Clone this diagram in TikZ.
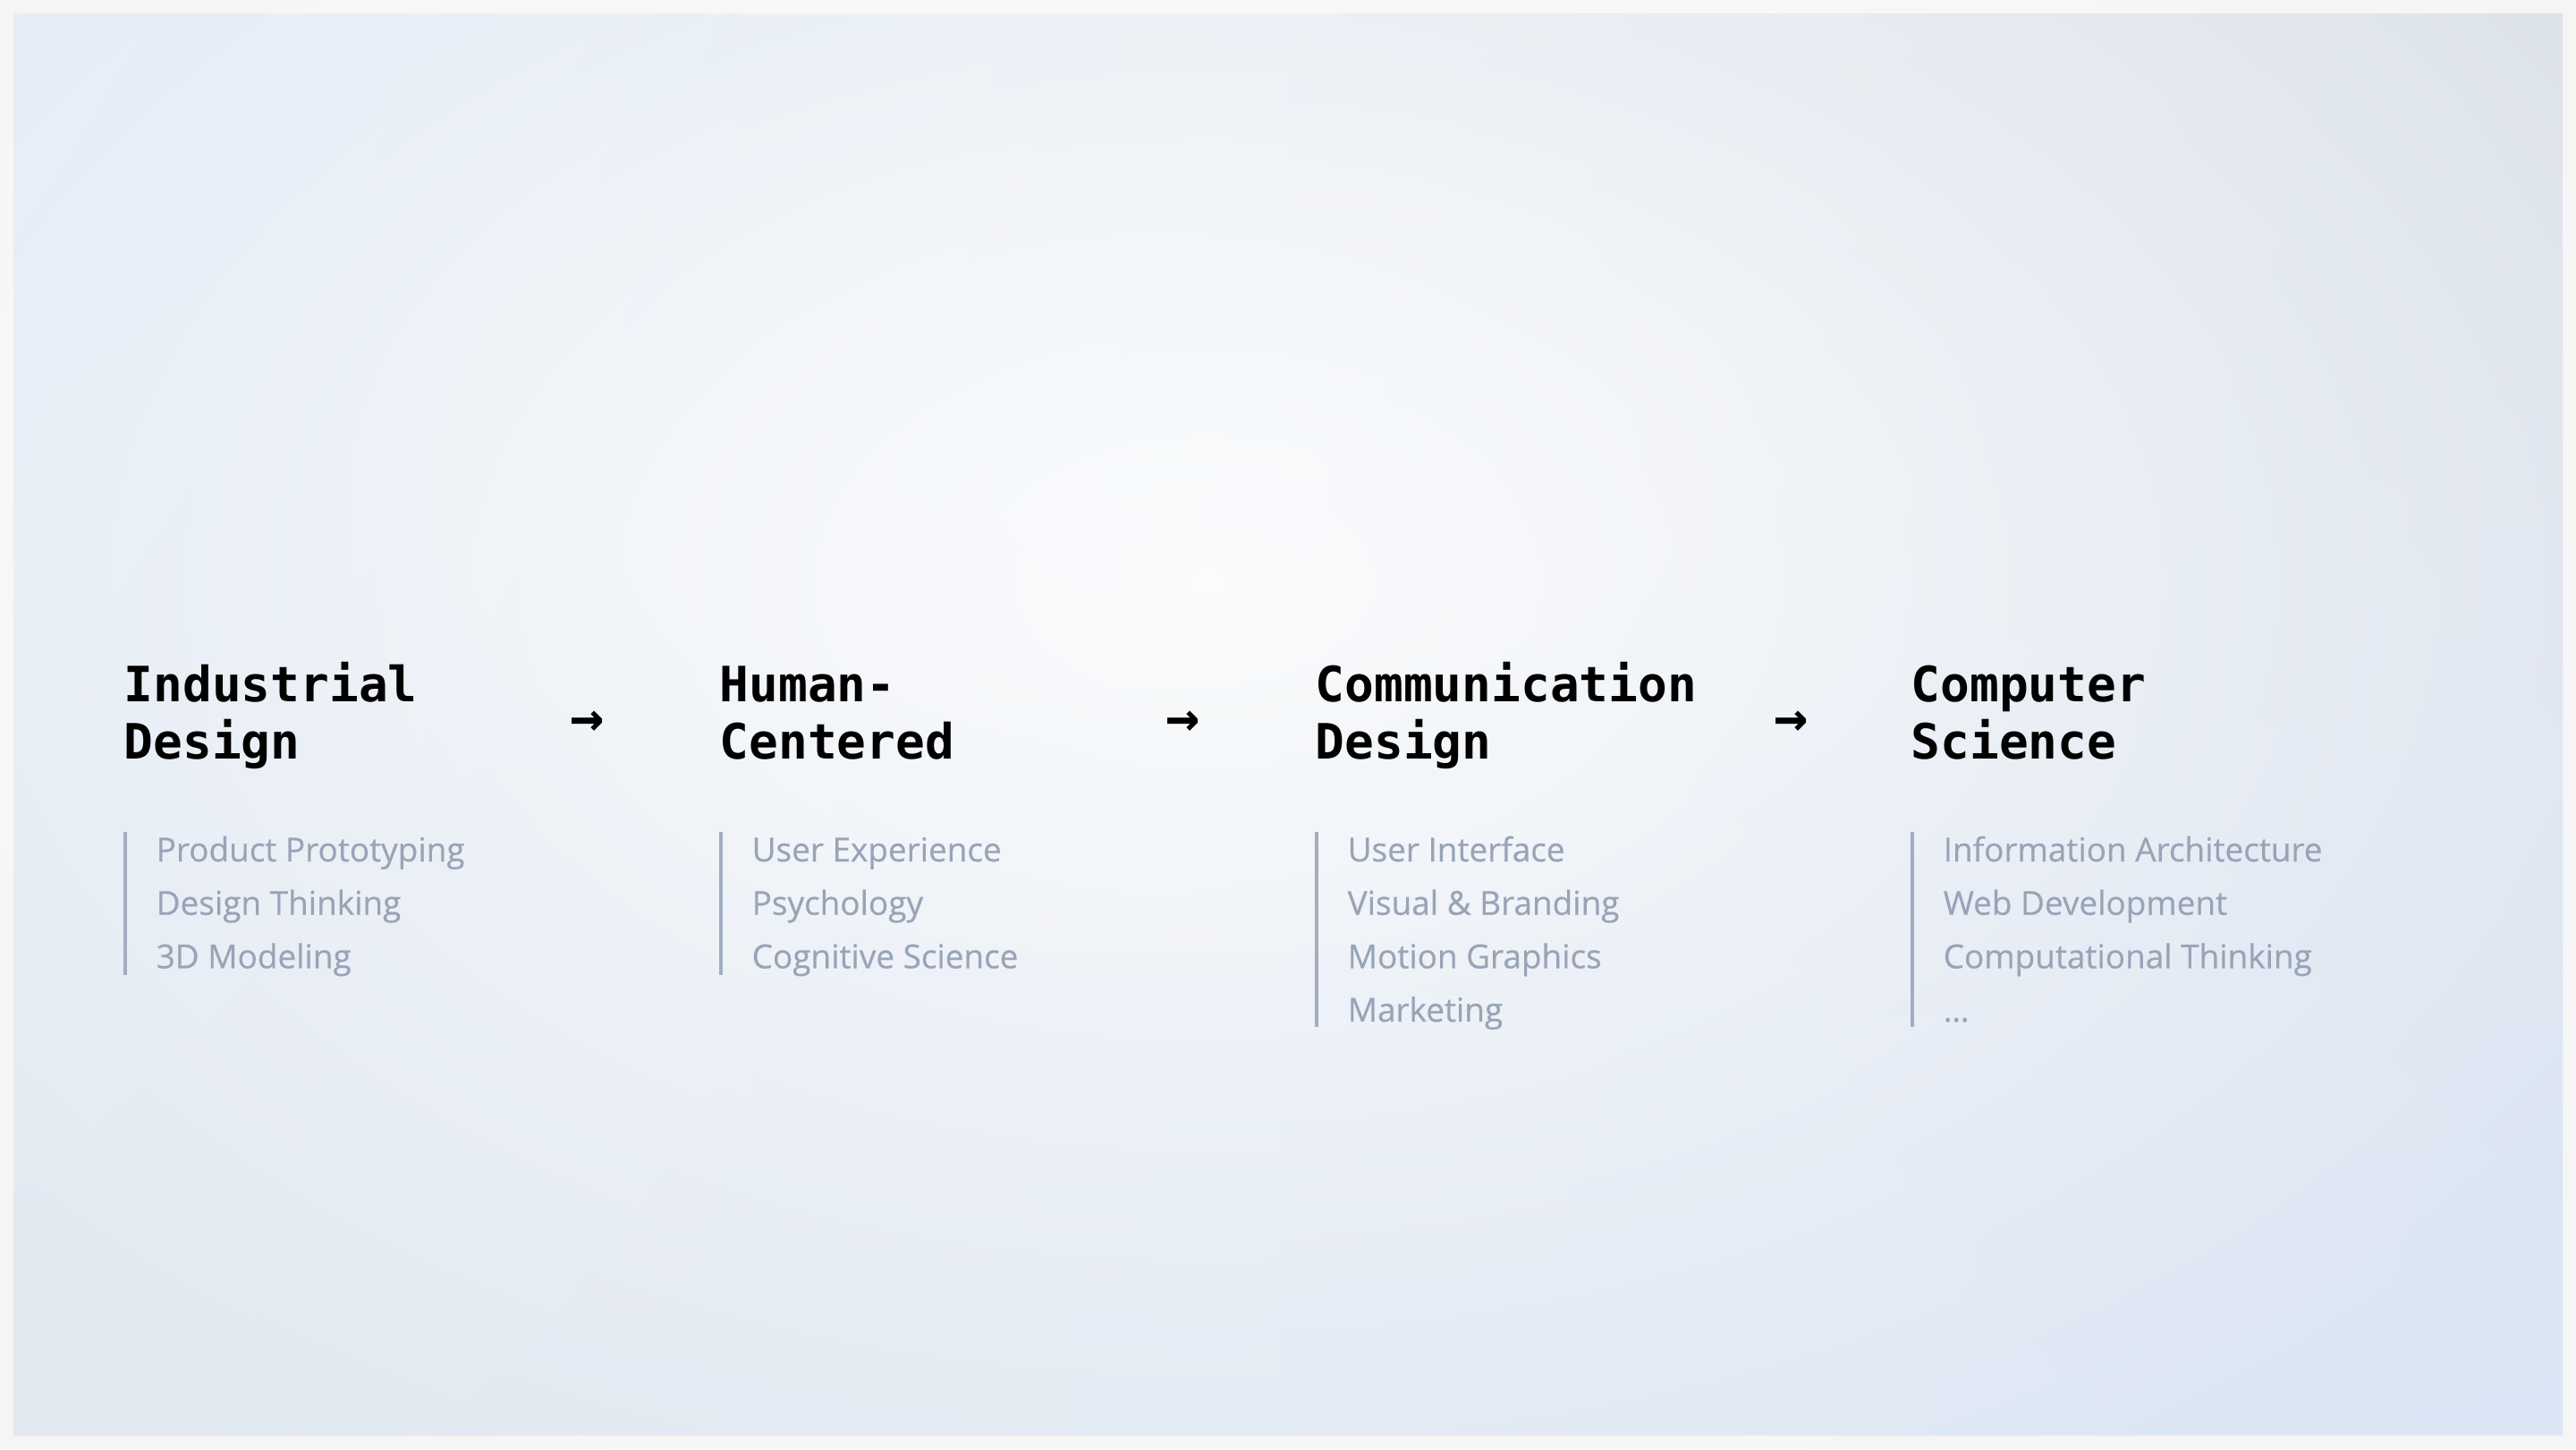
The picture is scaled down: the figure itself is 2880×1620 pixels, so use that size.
\documentclass[tikz,border=0pt]{standalone}
\usepackage{fontspec}
\usetikzlibrary{positioning,fadings,shadings}
\newfontfamily\headfont{DejaVu Sans Mono}
\newfontfamily\listfont{Open Sans}[FakeBold=0.4]
\definecolor{framegray}{HTML}{F5F5F5}
\definecolor{bgtl}{HTML}{E2EBF8}
\definecolor{bgtr}{HTML}{DCE2E9}
\definecolor{bgbl}{HTML}{E1E8EF}
\definecolor{bgbr}{HTML}{DBE5F5}
\definecolor{topicgray}{HTML}{98A4B7}
\definecolor{sidegray}{HTML}{A2AEC0}
\tikzfading[name=glow, inner color=transparent!0, outer color=transparent!100]
\tikzset{
  head/.style={anchor=base west, inner sep=0pt, align=left, font=\headfont\bfseries\fontsize{15.5pt}{18.2pt}\selectfont},
  topic/.style={anchor=base west, inner sep=0pt, text height=2.9mm, text depth=0.8mm, text=topicgray, font=\listfont\fontsize{10.5pt}{12pt}\selectfont},
  flow/.style={inner sep=0pt, font=\headfont\bfseries\fontsize{18pt}{18pt}\selectfont},
  sidebar/.style={draw=sidegray, line width=0.4mm},
}
\begin{document}
\begin{tikzpicture}[x=0.1mm, y=-0.1mm, node distance=2.13mm]
      \useasboundingbox (0,0) rectangle (2880,1620);
      \fill[framegray] (0,0) rectangle (2880,1620);
      \shade[upper left=bgtl, upper right=bgtr, lower left=bgbl, lower right=bgbr] (15,15) rectangle (2865,1604);
      \fill[white, opacity=0.8, path fading=glow] (1350,650) ellipse (1900 and 1200);
      \fill[white, opacity=0.3, path fading=glow] (1300,550) ellipse (1100 and 650);
      \node[head] (ID) at (138,848) {Industrial\\Design};
      \node[head] (HC) at (804,848) {Human-\\Centered};
      \node[head] (CD) at (1470,848) {Communication\\Design};
      \node[head] (CS) at (2136,848) {Computer\\Science};
      \node[flow] (A1) at (657,809) {→};
      \node[flow] (A2) at (1323,809) {→};
      \node[flow] (A3) at (2003,809) {→};
      \node[topic] (ID_1) at (174,963) {Product Prototyping};
      \node[topic, below=of ID_1.south west, anchor=north west] (ID_2) {Design Thinking};
      \node[topic, below=of ID_2.south west, anchor=north west] (ID_3) {3D Modeling};
      \draw[sidebar] (140,930) -- (140,1090);
      \node[topic] (HC_1) at (840,963) {User Experience};
      \node[topic, below=of HC_1.south west, anchor=north west] (HC_2) {Psychology};
      \node[topic, below=of HC_2.south west, anchor=north west] (HC_3) {Cognitive Science};
      \draw[sidebar] (806,930) -- (806,1090);
      \node[topic] (CD_1) at (1506,963) {User Interface};
      \node[topic, below=of CD_1.south west, anchor=north west] (CD_2) {Visual \& Branding};
      \node[topic, below=of CD_2.south west, anchor=north west] (CD_3) {Motion Graphics};
      \node[topic, below=of CD_3.south west, anchor=north west] (CD_4) {Marketing};
      \draw[sidebar] (1472,930) -- (1472,1148);
      \node[topic] (CS_1) at (2172,963) {Information Architecture};
      \node[topic, below=of CS_1.south west, anchor=north west] (CS_2) {Web Development};
      \node[topic, below=of CS_2.south west, anchor=north west] (CS_3) {Computational Thinking};
      \node[topic, below=of CS_3.south west, anchor=north west] (CS_4) {…};
      \draw[sidebar] (2138,930) -- (2138,1148);
    \end{tikzpicture}
\end{document}
